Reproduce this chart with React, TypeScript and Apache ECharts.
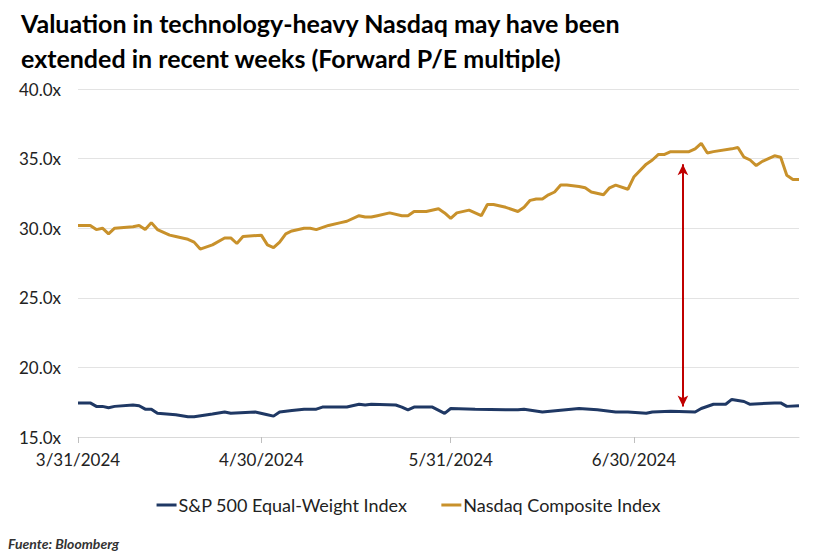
import React, { useEffect, useRef } from "react";
import * as echarts from "echarts";

const titleText = "Valuation in technology-heavy Nasdaq may have been\nextended in recent weeks (Forward P/E multiple)";
const sourceText = "Fuente: Bloomberg";
const seriesNames = ["S&P 500 Equal-Weight Index", "Nasdaq Composite Index"];
const xTickDates = ["2024-03-31", "2024-04-30", "2024-05-31", "2024-06-30"];
const yTicks = [15, 20, 25, 30, 35, 40];

const nasdaqDates = [
  "03-31", "04-02", "04-03", "04-04", "04-05", "04-06", "04-09", "04-10", "04-11", "04-12",
  "04-13", "04-15", "04-16", "04-18", "04-19", "04-20", "04-22", "04-24", "04-25", "04-26",
  "04-27", "04-30", "05-01", "05-02", "05-03", "05-04", "05-05", "05-07", "05-08", "05-09",
  "05-11", "05-13", "05-14", "05-16", "05-17", "05-18", "05-19", "05-21", "05-23", "05-24",
  "05-25", "05-27", "05-29", "05-30", "05-31", "06-01", "06-03", "06-05", "06-06", "06-07",
  "06-09", "06-11", "06-12", "06-13", "06-14", "06-15", "06-16", "06-17", "06-18", "06-19",
  "06-21", "06-22", "06-23", "06-25", "06-26", "06-27", "06-29", "06-30", "07-02", "07-03",
  "07-04", "07-05", "07-06", "07-09", "07-10", "07-11", "07-12", "07-13", "07-16", "07-17",
  "07-18", "07-19", "07-20", "07-21", "07-22", "07-23", "07-24", "07-25", "07-26", "07-27",
];
const nasdaqValues = [
  30.2, 30.2, 29.9, 30.0, 29.6, 30.0, 30.1, 30.2, 29.9, 30.4,
  29.9, 29.5, 29.4, 29.2, 29.0, 28.5, 28.8, 29.3, 29.3, 28.9,
  29.4, 29.5, 28.8, 28.6, 29.0, 29.6, 29.8, 30.0, 30.0, 29.9,
  30.2, 30.4, 30.5, 30.9, 30.8, 30.8, 30.9, 31.1, 30.9, 30.9,
  31.2, 31.2, 31.4, 31.1, 30.7, 31.1, 31.3, 30.9, 31.7, 31.7,
  31.5, 31.2, 31.5, 32.0, 32.1, 32.1, 32.4, 32.6, 33.1, 33.1,
  33.0, 32.9, 32.6, 32.4, 32.9, 33.1, 32.8, 33.7, 34.6, 34.9,
  35.3, 35.3, 35.5, 35.5, 35.7, 36.1, 35.4, 35.5, 35.7, 35.8,
  35.1, 34.9, 34.5, 34.8, 35.0, 35.2, 35.1, 33.8, 33.5, 33.5,
];

const spewDates = [
  "03-31", "04-02", "04-03", "04-04", "04-05", "04-06", "04-09", "04-10", "04-11", "04-12",
  "04-13", "04-16", "04-18", "04-19", "04-22", "04-24", "04-25", "04-29", "05-01", "05-02",
  "05-03", "05-05", "05-07", "05-09", "05-10", "05-14", "05-16", "05-17", "05-18", "05-22",
  "05-23", "05-24", "05-25", "05-27", "05-28", "05-30", "05-31", "06-04", "06-09", "06-11",
  "06-12", "06-15", "06-21", "06-24", "06-27", "06-29", "07-02", "07-03", "07-06", "07-10",
  "07-11", "07-13", "07-15", "07-16", "07-18", "07-19", "07-23", "07-24", "07-25", "07-27",
];
const spewValues = [
  17.45, 17.45, 17.2, 17.2, 17.1, 17.2, 17.3, 17.25, 17.0, 17.0,
  16.7, 16.6, 16.45, 16.45, 16.65, 16.8, 16.7, 16.8, 16.6, 16.5,
  16.8, 16.9, 17.0, 17.0, 17.15, 17.15, 17.35, 17.3, 17.35, 17.3,
  17.15, 16.95, 17.15, 17.15, 17.15, 16.7, 17.05, 17.0, 16.95, 16.95,
  17.0, 16.8, 17.05, 16.95, 16.8, 16.8, 16.7, 16.8, 16.85, 16.8,
  17.05, 17.35, 17.35, 17.7, 17.55, 17.35, 17.45, 17.45, 17.2, 17.25,
];

const arrowDate = "2024-07-08";
const arrowFrom = 17.2;
const arrowTo = 34.6;
const xMin = "2024-03-31";
const xMax = "2024-07-27";

const FONT = "Lato, 'Liberation Sans', sans-serif";
const DAY = 86400000;

function utc(s: string) {
  const [y, m, d] = s.split("-").map(Number);
  return Date.UTC(y, m - 1, d);
}
const base = utc(xMin);
function dayIndex(s: string) {
  return Math.round((utc(s) - base) / DAY);
}
function fmtDay(n: number) {
  const d = new Date(base + n * DAY);
  return `${d.getUTCMonth() + 1}/${d.getUTCDate()}/${d.getUTCFullYear()}`;
}
function toPairs(dates: string[], values: number[]) {
  return dates.map((d, i) => [dayIndex("2024-" + d), values[i]]);
}

export default function App() {
  const ref = useRef<HTMLDivElement>(null);

  useEffect(() => {
    if (!ref.current) return;
    const chart = echarts.init(ref.current, null, { renderer: "svg" });
    const tickDays = xTickDates.map(dayIndex);
    chart.setOption({
      animation: false,
      backgroundColor: "#ffffff",
      title: {
        text: titleText,
        left: 16,
        top: 0,
        textStyle: {
          fontFamily: FONT,
          fontSize: 25,
          fontWeight: "bold",
          color: "#000000",
          lineHeight: 35,
        },
      },
      legend: {
        top: 491,
        left: "center",
        icon: "rect",
        itemWidth: 20,
        itemHeight: 3,
        itemGap: 34,
        textStyle: { fontFamily: FONT, fontSize: 18, color: "#222222", padding: [0, 0, 0, -3] },
        data: seriesNames,
      },
      graphic: [
        {
          type: "text",
          left: 8,
          top: 536,
          style: {
            text: sourceText,
            fontFamily: FONT,
            fontSize: 14,
            fontStyle: "italic",
            fontWeight: "bold",
            fill: "#333333",
          },
        },
      ],
      grid: { left: 78, right: 18, top: 89, bottom: 118, containLabel: false },
      xAxis: {
        type: "value",
        min: 0,
        max: dayIndex(xMax),
        axisLine: { show: true, lineStyle: { color: "#d9d9d9", width: 1 } },
        axisTick: {
          show: true,
          length: 6,
          lineStyle: { color: "#bfbfbf" },
          customValues: tickDays,
        },
        axisLabel: {
          customValues: tickDays,
          fontFamily: FONT,
          fontSize: 17,
          color: "#222222",
          margin: 14,
          formatter: (v: number) => fmtDay(v),
        },
        splitLine: { show: false },
      },
      yAxis: {
        type: "value",
        min: yTicks[0],
        max: yTicks[yTicks.length - 1],
        interval: 5,
        axisLine: { show: false },
        axisTick: { show: false },
        axisLabel: {
          fontFamily: FONT,
          fontSize: 17,
          color: "#222222",
          margin: 17,
          formatter: (v: number) => v.toFixed(1) + "x",
        },
        splitLine: { lineStyle: { color: "#e3e3e3", width: 1 } },
      },
      series: [
        {
          name: seriesNames[0],
          type: "line",
          data: toPairs(spewDates, spewValues),
          showSymbol: false,
          symbol: "none",
          color: "#1f3864",
          lineStyle: { color: "#1f3864", width: 3 },
          z: 3,
        },
        {
          name: seriesNames[1],
          type: "line",
          data: toPairs(nasdaqDates, nasdaqValues),
          showSymbol: false,
          symbol: "none",
          color: "#c8912b",
          lineStyle: { color: "#c8912b", width: 3 },
          z: 2,
          markLine: {
            silent: true,
            symbol: ["arrow", "arrow"],
            symbolSize: [8, 11],
            label: { show: false },
            lineStyle: { color: "#c00000", width: 2, type: "solid" },
            data: [
              [
                { coord: [dayIndex(arrowDate), arrowFrom] },
                { coord: [dayIndex(arrowDate), arrowTo] },
              ],
            ],
          },
        },
      ],
    });
    return () => chart.dispose();
  }, []);

  return (
    <div
      ref={ref}
      style={{ position: "fixed", left: 0, top: 0, width: 817, height: 555, background: "#fff" }}
    />
  );
}
